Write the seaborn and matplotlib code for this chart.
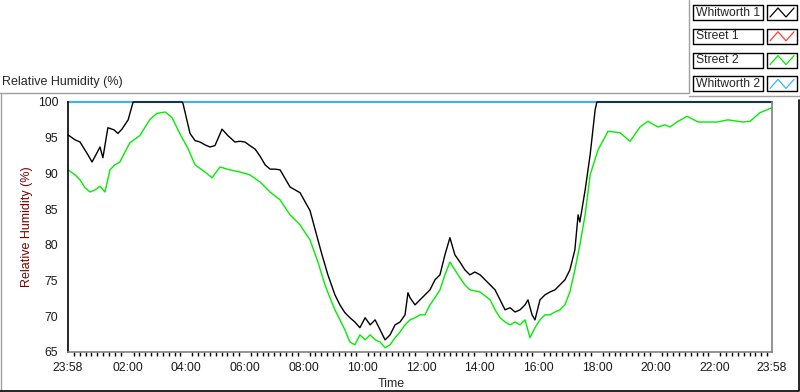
import numpy as np
import pandas as pd
import seaborn as sns
from matplotlib import pyplot as plt
from matplotlib.lines import Line2D
from matplotlib.ticker import FixedLocator

# hours since 23:58
black_h = [0, 0.24, 0.41, 0.68, 0.82, 0.95, 1.09, 1.19, 1.36, 1.57, 1.70, 1.84, 2.05, 2.22, 3.89, 3.92,
           4.16, 4.33, 4.50, 4.67, 4.84, 5.01, 5.18, 5.25, 5.45, 5.69, 5.86, 6.03, 6.20, 6.38, 6.55, 6.72,
           6.89, 7.06, 7.23, 7.57, 7.91, 8.25, 8.52, 8.66, 8.86, 9.10, 9.27, 9.44, 9.61, 9.78, 9.95, 10.13,
           10.30, 10.47, 10.64, 10.81, 10.98, 11.15, 11.32, 11.49, 11.59, 11.66, 11.83, 12.00, 12.17, 12.34,
           12.51, 12.68, 12.85, 13.02, 13.19, 13.36, 13.53, 13.70, 13.87, 14.05, 14.22, 14.39, 14.56, 14.73,
           14.90, 15.07, 15.24, 15.41, 15.58, 15.68, 15.82, 15.92, 16.09, 16.26, 16.43, 16.60, 16.77, 16.94,
           17.11, 17.28, 17.39, 17.45, 17.63, 17.80, 17.97, 18.03, 24]
whitworth1 = [95.4, 94.7, 94.4, 92.6, 91.6, 92.6, 93.7, 92.2, 96.4, 96.1, 95.6, 96.2, 97.5, 100, 100, 99.8,
              95.6, 94.6, 94.4, 94.0, 93.7, 93.9, 95.5, 96.2, 95.3, 94.4, 94.5, 94.4, 93.9, 93.4, 92.4, 91.2,
              90.6, 90.6, 90.5, 88.1, 87.3, 84.8, 80.7, 78.6, 75.8, 73.0, 71.6, 70.5, 69.8, 69.2, 68.4, 69.8,
              68.8, 69.5, 68.1, 66.7, 67.4, 68.8, 69.2, 70.2, 73.3, 72.6, 71.6, 72.3, 73.0, 73.7,
              75.1, 75.8, 78.6, 81.0, 78.6, 77.6, 76.5, 75.8, 76.2, 75.8, 75.1, 74.4, 73.7, 72.3,
              70.9, 71.2, 70.6, 70.9, 71.6, 72.3, 70.2, 69.5, 72.3, 73.0, 73.4, 73.7, 74.4, 75.1,
              76.5, 79.3, 84.2, 83.2, 87.7, 92.6, 98.9, 100, 100]

green_h = [0, 0.24, 0.41, 0.58, 0.75, 0.92, 1.09, 1.26, 1.43, 1.60, 1.77, 1.94, 2.11, 2.45, 2.80, 3.03,
           3.31, 3.55, 3.82, 4.09, 4.33, 4.67, 4.91, 5.18, 5.52, 5.86, 6.20, 6.55, 6.89, 7.23, 7.57, 7.91,
           8.25, 8.52, 8.76, 8.93, 9.10, 9.27, 9.44, 9.61, 9.78, 9.95, 10.13, 10.30, 10.47, 10.64, 10.81,
           10.98, 11.15, 11.32, 11.49, 11.66, 11.83, 12.00, 12.17, 12.34, 12.51, 12.68, 12.85, 13.02, 13.19,
           13.36, 13.53, 13.70, 14.05, 14.39, 14.56, 14.73, 14.90, 15.07, 15.24, 15.41, 15.58, 15.75, 15.92,
           16.09, 16.26, 16.43, 16.60, 16.77, 16.94, 17.11, 17.28, 17.45, 17.63, 17.80, 18.07, 18.41, 18.82,
           19.16, 19.50, 19.77, 20.11, 20.35, 20.52, 20.76, 21.10, 21.48, 22.13, 22.50, 23.01, 23.25, 23.59, 24]
street2 = [90.5, 89.8, 89.1, 88.0, 87.4, 87.7, 88.2, 87.4, 90.5, 91.2, 91.6, 93.0, 94.3, 95.3, 97.6, 98.4,
           98.6, 97.8, 95.5, 93.5, 91.2, 90.2, 89.4, 90.9, 90.5, 90.2, 89.8, 88.8, 87.4, 86.3, 84.2, 82.8,
           80.7, 77.6, 74.4, 72.6, 70.9, 69.5, 68.1, 66.4, 66.0, 67.4, 66.7, 67.4, 66.7, 66.4, 65.6,
           66.0, 67.0, 67.8, 68.8, 69.5, 69.8, 70.2, 70.2, 71.6, 72.6, 73.7, 75.8, 77.6, 76.5,
           75.4, 74.4, 73.7, 73.4, 72.3, 70.9, 69.8, 69.2, 68.8, 69.2, 68.8, 69.5, 67.0, 68.4,
           69.5, 70.2, 70.2, 70.6, 70.9, 71.6, 73.4, 76.5, 80.0, 84.2, 89.8, 93.3, 95.9, 95.7,
           94.5, 96.5, 97.3, 96.5, 96.8, 96.5, 97.2, 98.0, 97.2, 97.2, 97.5, 97.2, 97.3, 98.5, 99.2]

flat_h = [0, 24]
street1 = [100, 100]
whitworth2 = [100, 100]

tick_pos = [0, 2.0333, 4.0333, 6.0333, 8.0333, 10.0333, 12.0333, 14.0333, 16.0333, 18.0333, 20.0333, 22.0333, 24]
tick_labels = ['23:58', '02:00', '04:00', '06:00', '08:00', '10:00', '12:00', '14:00',
               '16:00', '18:00', '20:00', '22:00', '23:58']
y_ticks = [65, 70, 75, 80, 85, 90, 95, 100]

legend_names = ['Whitworth 1', 'Street 1', 'Street 2', 'Whitworth 2']
c_black, c_red, c_green, c_blue = '#000000', '#ff3b3b', '#00ee00', '#35b6f2'
legend_colors = [c_black, c_red, c_green, c_blue]

sns.set_style('white')
plt.rcParams['font.family'] = ['Liberation Sans', 'DejaVu Sans']
plt.rcParams['font.size'] = 8.5

W, H = 800, 392
fig = plt.figure(figsize=(W / 100, H / 100), dpi=100)
ax = fig.add_axes([68 / W, 1 - 352 / H, (772 - 68) / W, 250 / H])

sns.lineplot(x=flat_h, y=street1, color=c_red, lw=1.5, ax=ax, clip_on=False)
sns.lineplot(x=flat_h, y=whitworth2, color=c_blue, lw=1.5, ax=ax, clip_on=False)
sns.lineplot(x=green_h, y=street2, color=c_green, lw=1, ax=ax, clip_on=False)
sns.lineplot(x=black_h, y=whitworth1, color=c_black, lw=1, ax=ax, clip_on=False)

ax.set_xlim(0, 24)
ax.set_ylim(65, 100)
ax.set_xticks(tick_pos)
ax.set_xticklabels(tick_labels)
minor = []
for a, b in zip(tick_pos[:-1], tick_pos[1:]):
    minor += list(np.arange(a + 0.2, b - 0.05, 0.2))
ax.xaxis.set_minor_locator(FixedLocator(minor))
ax.set_yticks(y_ticks)
ax.set_xlabel('')
ax.set_ylabel('Relative Humidity (%)', color='#7a0000', fontsize=9)
ax.yaxis.set_label_coords((33 - 68) / 704, 0.5)
ax.tick_params(axis='both', which='major', direction='out', length=5, width=1, color='black',
               labelcolor='#1a1a1a', labelsize=8.8, pad=2)
ax.tick_params(axis='x', which='major', length=4, width=1.5, pad=3)
ax.tick_params(axis='x', which='minor', bottom=True, direction='out', length=3, width=1, color='black')

ax.spines['top'].set_visible(False)
ax.spines['left'].set_color('black')
ax.spines['bottom'].set_color('#808080')
ax.spines['right'].set_color('#808080')
for s in ['left', 'bottom', 'right']:
    ax.spines[s].set_linewidth(1.2)

fig.text(391 / W, 1 - 384 / H, 'Time', ha='center', va='center', fontsize=9)
fig.text(2 / W, 1 - 82 / H, 'Relative Humidity (%)', ha='left', va='center', fontsize=9)


def px_line(xs, ys, **kw):
    fig.add_artist(Line2D([x / W for x in xs], [1 - y / H for y in ys], transform=fig.transFigure, **kw))


# panel borders
px_line([0, 689, 689, 689], [92.5, 92.5, 92.5, 0], color='#a0a0a0', lw=1)
px_line([689, 800], [95.5, 95.5], color='#a0a0a0', lw=1)
px_line([0.5, 0.5], [92.5, 392], color='#a0a0a0', lw=1)
px_line([0, 798.5, 798.5], [391, 391, 100], color='black', lw=1.2)

# legend
for i, (name, col) in enumerate(zip(legend_names, legend_colors)):
    top = 5 + i * 23.8
    bot = top + 15
    fig.text(696 / W, 1 - (top + bot) / 2 / H, name, ha='left', va='center', fontsize=8.7)
    px_line([693, 763, 763, 693, 693], [top, top, bot, bot, top], color='black', lw=1)
    px_line([767, 797, 797, 767, 767], [top, top, bot, bot, top], color='black', lw=1)
    px_line([770, 778, 786, 794], [bot - 3, top + 3, bot - 3, top + 3], color=col, lw=0.9)

fig.savefig('out.png', dpi=100)
